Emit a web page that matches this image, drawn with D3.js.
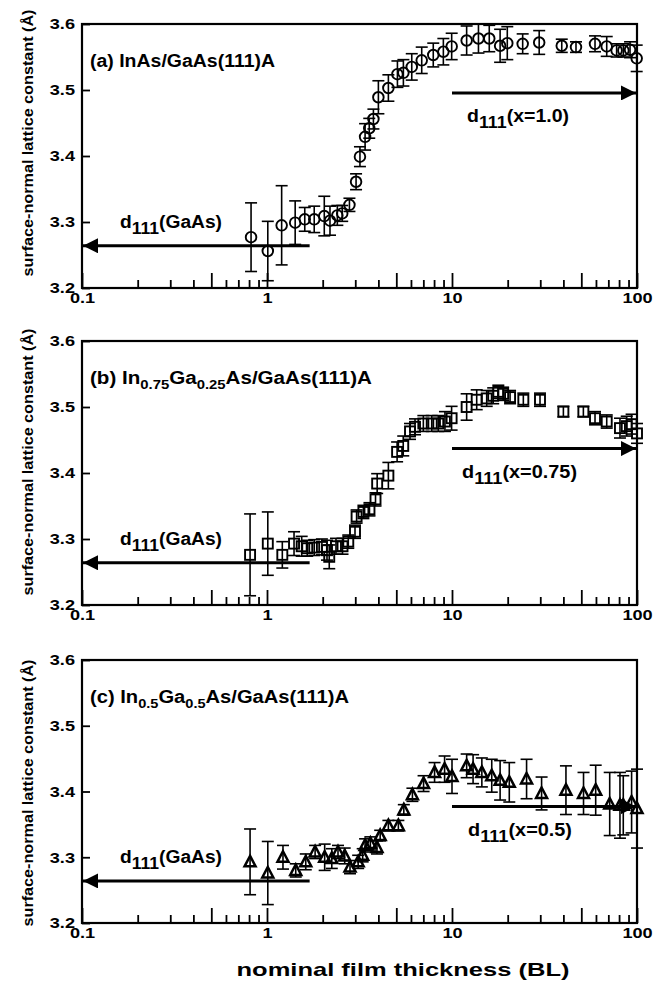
<!DOCTYPE html>
<html><head><meta charset="utf-8">
<script src="https://cdn.jsdelivr.net/npm/d3@7"></script>
<style>
body{margin:0;background:#fff;}
text{font-family:"Liberation Sans",Arial,Helvetica,sans-serif;font-weight:bold;fill:#000;}
</style></head>
<body><svg id="c" width="657" height="987"></svg>
<script>
// ---- data ----
const xA = [0.82,1.01,1.20,1.42,1.60,1.80,2.04,2.19,2.40,2.55,2.79,3.03,3.18,3.39,3.57,3.76,4.0,4.53,5.07,5.46,6.06,6.86,7.92,8.98,9.96,12.0,13.9,15.9,18.2,19.9,24.1,29.6,39.2,46.8,59.3,68.6,77.6,84.4,91.7,99.6];
const yA = [3.277,3.256,3.295,3.299,3.304,3.304,3.309,3.302,3.310,3.313,3.326,3.361,3.399,3.429,3.442,3.456,3.489,3.503,3.524,3.526,3.535,3.545,3.553,3.558,3.566,3.575,3.578,3.578,3.567,3.571,3.570,3.572,3.567,3.565,3.570,3.566,3.560,3.560,3.561,3.548];
const eA = [0.052,0.045,0.06,0.033,0.018,0.02,0.03,0.022,0.015,0.012,0.01,0.012,0.015,0.02,0.015,0.015,0.025,0.02,0.02,0.02,0.02,0.02,0.018,0.02,0.02,0.022,0.022,0.02,0.025,0.025,0.015,0.018,0.01,0.008,0.012,0.015,0.01,0.01,0.012,0.02];

const xB = [0.81,1.01,1.21,1.40,1.54,1.65,1.80,1.98,2.11,2.17,2.36,2.56,2.75,2.99,3.05,3.32,3.58,3.86,3.94,4.53,5.05,5.45,5.93,6.31,7.0,7.77,8.43,9.16,9.95,12.0,13.6,15.4,16.7,17.8,18.9,20.6,24.3,29.9,40.0,51.3,59.3,68.6,80.9,88.0,93.5,100];
const yB = [3.276,3.293,3.276,3.293,3.289,3.286,3.287,3.288,3.283,3.273,3.289,3.289,3.296,3.311,3.334,3.341,3.345,3.360,3.384,3.396,3.432,3.441,3.463,3.470,3.475,3.475,3.475,3.478,3.483,3.500,3.511,3.513,3.517,3.523,3.520,3.515,3.511,3.511,3.493,3.493,3.483,3.478,3.468,3.471,3.474,3.460];
const eB = [0.062,0.048,0.02,0.018,0.015,0.012,0.012,0.012,0.015,0.018,0.012,0.012,0.01,0.01,0.01,0.01,0.01,0.01,0.015,0.02,0.015,0.015,0.012,0.012,0.012,0.012,0.012,0.015,0.018,0.02,0.015,0.012,0.012,0.01,0.01,0.01,0.01,0.01,0.008,0.008,0.01,0.01,0.015,0.015,0.015,0.015];

const xC = [0.81,1.01,1.22,1.43,1.62,1.82,2.05,2.24,2.42,2.63,2.81,3.11,3.29,3.39,3.62,3.93,4.09,4.53,5.13,5.49,6.11,7.02,8.05,9.12,10.0,12.0,13.0,14.5,16.4,18.2,20.4,25.3,30.5,41.3,51.4,59.8,71.2,80.9,84.3,93.5,100];
const yC = [3.293,3.276,3.300,3.280,3.293,3.308,3.300,3.298,3.308,3.302,3.285,3.293,3.303,3.318,3.321,3.315,3.333,3.348,3.348,3.372,3.395,3.412,3.429,3.434,3.423,3.439,3.434,3.429,3.424,3.417,3.414,3.419,3.397,3.402,3.397,3.402,3.381,3.379,3.379,3.384,3.374];
const eC = [0.05,0.048,0.018,0.01,0.012,0.01,0.02,0.015,0.01,0.012,0.01,0.01,0.01,0.01,0.01,0.01,0.008,0.008,0.008,0.008,0.01,0.012,0.015,0.02,0.026,0.018,0.022,0.022,0.025,0.03,0.03,0.03,0.025,0.037,0.032,0.038,0.048,0.05,0.045,0.047,0.06];

const xTickLabels = [0.1, 1, 10, 100];
const xLongTicks = [0.5, 5, 50];
const xMinorTicks = [0.2,0.3,0.4,0.6,0.7,0.8,0.9,2,3,4,6,7,8,9,20,30,40,60,70,80,90];
const yTicks = [3.2, 3.3, 3.4, 3.5, 3.6];
const gaAsLine = 3.264;             // d111(GaAs)
const gaAsLineEnd = 1.7;
const filmLine = [3.4955, 3.437, 3.377]; // d111(x) for each panel
const filmLineRange = [10, 100];

const panels = [
  {x:xA, y:yA, e:eA, marker:"circle", top:24, bottom:288, tw:185,
   title:[["(a) InAs/GaAs(111)A",0]], label:"(x=1.0)", lx:467, lw:102},
  {x:xB, y:yB, e:eB, marker:"square", top:341, bottom:605, tw:282,
   title:[["(b)  In",0],["0.75",1],["Ga",0],["0.25",1],["As/GaAs(111)A",0]], label:"(x=0.75)", lx:462, lw:115},
  {x:xC, y:yC, e:eC, marker:"triangle", top:660, bottom:923, tw:259,
   title:[["(c)  In",0],["0.5",1],["Ga",0],["0.5",1],["As/GaAs(111)A",0]], label:"(x=0.5)", lx:468, lw:104}
];

const svg = d3.select("#c");
const L = 82, R = 637;
const x = d3.scaleLog().domain([0.1,100]).range([L,R]);

function stretch(sel, w){ sel.attr("textLength", w).attr("lengthAdjust","spacingAndGlyphs"); }

svg.append("defs").append("marker").attr("id","ah")
  .attr("viewBox","0 0 10 10").attr("refX",10).attr("refY",5)
  .attr("markerWidth",7.5).attr("markerHeight",5).attr("markerUnits","strokeWidth")
  .attr("orient","auto")
  .append("path").attr("d","M0,0 L10,5 L0,10 z").attr("fill","#000");

panels.forEach((p,i)=>{
  const y = d3.scaleLinear().domain([3.2,3.6]).range([p.bottom,p.top]);
  const g = svg.append("g");
  const H = p.bottom - p.top;

  // ticks
  const ax1 = g.append("g").attr("transform",`translate(0,${p.bottom})`)
    .call(d3.axisBottom(x).tickValues(xTickLabels).tickSize(-15).tickPadding(15).tickFormat(d=>String(d)));
  g.append("g").attr("transform",`translate(0,${p.bottom})`)
    .call(d3.axisBottom(x).tickValues(xLongTicks).tickSize(-15).tickFormat(""));
  g.append("g").attr("transform",`translate(0,${p.bottom})`)
    .call(d3.axisBottom(x).tickValues(xMinorTicks).tickSize(-8).tickFormat(""));
  const ay = g.append("g").attr("transform",`translate(${L},0)`)
    .call(d3.axisLeft(y).tickValues(yTicks).tickSize(-8).tickPadding(7).tickFormat(d3.format(".1f")));
  g.selectAll(".domain").remove();
  g.selectAll(".tick line").attr("stroke","#000").attr("stroke-width",1.8);
  g.selectAll(".tick text").style("font-size","15.5px").style("font-family","'Liberation Sans',Arial,sans-serif").style("font-weight","bold").attr("fill","#000");
  ax1.selectAll(".tick text").attr("dy","0");
  g.selectAll(".tick text").each(function(){
    const w = this.getComputedTextLength();
    if (w>0) stretch(d3.select(this), w*1.17);
  });

  // frame
  g.append("rect").attr("x",L).attr("y",p.top).attr("width",R-L).attr("height",H)
    .attr("fill","none").attr("stroke","#000").attr("stroke-width",2.2);

  // y label
  const yc = [143,462,793][i];
  const yl = g.append("text").attr("transform",`translate(33,${yc}) rotate(-90)`)
    .attr("text-anchor","middle").style("font-size","15px")
    .text("surface-normal lattice constant (Å)");
  stretch(yl, 267);

  // title
  const t = g.append("text").attr("x",90).attr("y",p.top+43).style("font-size","18px");
  p.title.forEach(([s,sub])=>{
    const ts = t.append("tspan").text(s);
    if(sub) ts.style("font-size","13px").attr("dy",5);
    else ts.attr("dy", t.selectAll("tspan").size()>1 ? -5 : 0);
  });
  stretch(t, p.tw);

  // reference arrows
  g.append("line").attr("x1",x(gaAsLineEnd)).attr("x2",L+1).attr("y1",y(gaAsLine)).attr("y2",y(gaAsLine))
    .attr("stroke","#000").attr("stroke-width",3).attr("marker-end","url(#ah)");
  g.append("line").attr("x1",x(filmLineRange[0])).attr("x2",x(filmLineRange[1])-1)
    .attr("y1",y(filmLine[i])).attr("y2",y(filmLine[i]))
    .attr("stroke","#000").attr("stroke-width",3).attr("marker-end","url(#ah)");

  const d1 = g.append("text").attr("x",120).attr("y",y(gaAsLine)-18).style("font-size","17.5px");
  d1.append("tspan").text("d");
  d1.append("tspan").text("111").attr("dy",6).style("font-size","16px");
  d1.append("tspan").text("(GaAs)").attr("dy",-6);
  stretch(d1, 102);
  const d2 = g.append("text").attr("x",p.lx).attr("y",y(filmLine[i])+29).style("font-size","17.5px");
  d2.append("tspan").text("d");
  d2.append("tspan").text("111").attr("dy",6).style("font-size","16px");
  d2.append("tspan").text(p.label).attr("dy",-6);
  stretch(d2, p.lw);

  // data
  const data = p.x.map((v,k)=>({x:v,y:p.y[k],e:p.e[k]}));
  const eb = g.append("g").attr("stroke","#000").attr("stroke-width",1.6);
  data.forEach(d=>{
    const cx = x(d.x), y1 = y(d.y+d.e), y2 = y(d.y-d.e);
    eb.append("line").attr("x1",cx).attr("x2",cx).attr("y1",y1).attr("y2",y2);
    eb.append("line").attr("x1",cx-6).attr("x2",cx+6).attr("y1",y1).attr("y2",y1);
    eb.append("line").attr("x1",cx-6).attr("x2",cx+6).attr("y1",y2).attr("y2",y2);
  });
  const mk = g.append("g").attr("fill","none").attr("stroke","#000");
  data.forEach(d=>{
    const cx = x(d.x), cy = y(d.y);
    if(p.marker==="circle"){
      mk.append("circle").attr("cx",cx).attr("cy",cy).attr("r",5.3).attr("stroke-width",1.9);
    } else if(p.marker==="square"){
      mk.append("rect").attr("x",cx-5).attr("y",cy-5).attr("width",10).attr("height",10).attr("stroke-width",1.9);
    } else {
      mk.append("path").attr("d",`M${cx},${cy-6} L${cx+5.5},${cy+4.5} L${cx-5.5},${cy+4.5} Z`).attr("stroke-width",2.5);
    }
  });
});

const xl = svg.append("text").attr("x",403).attr("y",976).attr("text-anchor","middle").style("font-size","19px")
  .text("nominal film thickness (BL)");
stretch(xl, 333);
</script></body></html>
